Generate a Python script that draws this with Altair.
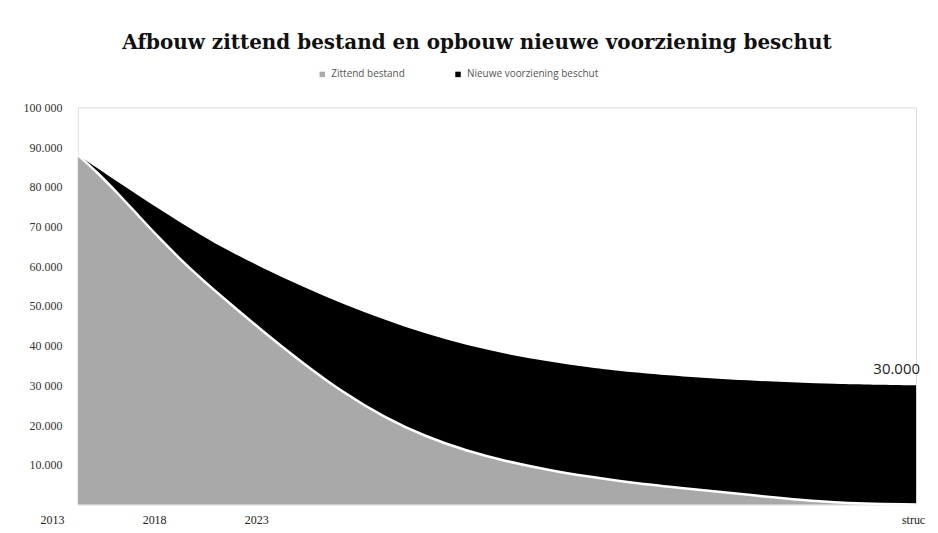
import altair as alt
import pandas as pd

# values
jaar = [2013, 2014, 2015, 2016, 2017, 2018, 2019, 2020, 2022, 2024, 2026, 2028,
        2030, 2032, 2034, 2036, 2038, 2040, 2043, 2046, 2050, 2054]
zittend = [88000, 83400, 78100, 72500, 67000, 61800, 57000, 52500, 43800, 35600, 28100, 21900,
           17100, 13500, 10800, 8700, 7000, 5500, 3900, 2300, 300, 0]
nieuw = [0, 1100, 2950, 5150, 7300, 9250, 10900, 12400, 15800, 19200, 22300, 24600,
         25900, 26600, 27000, 27300, 27500, 27800, 28140, 28840, 30000, 30000]

reeksen = ["Zittend bestand", "Nieuwe voorziening beschut"]
kleuren = ["#a9a9a9", "#000000"]

x_ticks = [2013, 2018, 2023, 2054]
x_labels = ["2013", "2018", "2023", "struc"]
y_ticks = [10000, 20000, 30000, 40000, 50000, 60000, 70000, 80000, 90000, 100000]
y_labels = ["10.000", "20.000", "30 000", "40 000", "50.000", "60.000", "70 000", "80 000", "90.000", "100 000"]

eind_label = "30.000"

rows = []
for j, z, n in zip(jaar, zittend, nieuw):
    rows.append({"jaar": j, "reeks": reeksen[0], "waarde": z, "volgorde": 0})
    rows.append({"jaar": j, "reeks": reeksen[1], "waarde": n, "volgorde": 1})
df = pd.DataFrame(rows)
df_z = pd.DataFrame({"jaar": jaar, "zittend": zittend})
df_end = pd.DataFrame({"jaar": [jaar[-1]], "totaal": [zittend[-1] + nieuw[-1]], "label": [eind_label]})

x_expr = " : ".join(f"datum.value == {v} ? '{l}'" for v, l in zip(x_ticks, x_labels)) + " : ''"
y_expr = " : ".join(f"datum.value == {v} ? '{l}'" for v, l in zip(y_ticks, y_labels)) + " : ''"

x_scale = alt.Scale(domain=[2013, 2054], nice=False, zero=False)
y_scale = alt.Scale(domain=[0, 100000], nice=False)

area = alt.Chart(df).mark_area(interpolate="basis").encode(
    x=alt.X("jaar:Q", scale=x_scale, title=None,
            axis=alt.Axis(values=x_ticks, labelExpr=x_expr, domain=False, ticks=False, grid=False,
                          labelFont="Liberation Serif", labelFontSize=12, labelColor="#222",
                          labelPadding=10, labelFlush=False,
                          labelOffset={"condition": {"test": "datum.value < 2050", "value": -26}, "value": -3})),
    y=alt.Y("waarde:Q", stack="zero", scale=y_scale, title=None,
            axis=alt.Axis(values=y_ticks, labelExpr=y_expr, domain=False, ticks=False, grid=False,
                          labelFont="Liberation Serif", labelFontSize=12, labelColor="#333",
                          labelPadding=16)),
    color=alt.Color("reeks:N", scale=alt.Scale(domain=reeksen, range=kleuren),
                    legend=alt.Legend(title=None, orient="none", direction="horizontal",
                                      legendX=240, legendY=-38, symbolType="square", symbolSize=30,
                                      labelFont="Open Sans", labelFontSize=10, labelColor="#555",
                                      columnPadding=48, symbolStrokeWidth=0)),
    order=alt.Order("volgorde:Q"),
)

line = alt.Chart(df_z).mark_line(color="white", strokeWidth=2.5, interpolate="basis").encode(
    x=alt.X("jaar:Q", scale=x_scale),
    y=alt.Y("zittend:Q", scale=y_scale),
)

label = alt.Chart(df_end).mark_text(align="right", baseline="bottom", dx=4, dy=-8,
                                    font="Open Sans", fontSize=15, color="#222").encode(
    x=alt.X("jaar:Q", scale=x_scale),
    y=alt.Y("totaal:Q", scale=y_scale),
    text="label:N",
)

chart = alt.layer(area, line, label).properties(
    width=840, height=398,
    padding={"left": 15, "top": 25, "right": 5, "bottom": 0},
    title=alt.TitleParams("Afbouw zittend bestand en opbouw nieuwe voorziening beschut",
                          font="DejaVu Serif", fontSize=20, fontWeight="bold", color="#111",
                          anchor="middle", dx=-20, offset=16),
).configure_view(stroke=None).configure(background="white")

chart.save("out.html", embed_options={"renderer": "svg", "actions": False})
